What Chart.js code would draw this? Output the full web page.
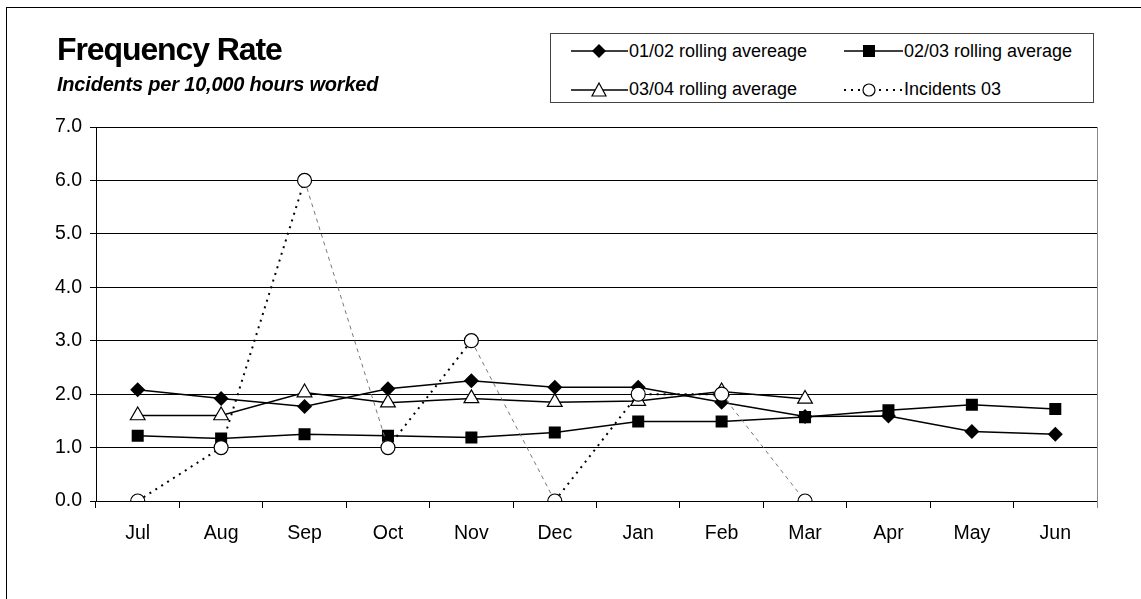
<!DOCTYPE html>
<html>
<head>
<meta charset="utf-8">
<script src="https://cdn.jsdelivr.net/npm/chart.js@4/dist/chart.umd.min.js"></script>
<style>
  html, body { margin: 0; padding: 0; background: #fff; overflow: hidden; }
  #wrap { position: relative; width: 1141px; height: 599px; overflow: hidden; font-family: "Liberation Sans", Arial, sans-serif; color: #000; }
  #frame { position: absolute; left: 6px; top: 7px; width: 1200px; height: 700px; border-left: 1px solid #000; border-top: 1px solid #000; }
  #c { position: absolute; left: 0; top: 0; }
  .title { position: absolute; left: 57px; top: 33px; font-size: 32px; line-height: 32px; font-weight: bold; letter-spacing: -1.1px; white-space: nowrap; }
  .subtitle { position: absolute; left: 57px; top: 74px; font-size: 20px; line-height: 20px; font-weight: bold; font-style: italic; letter-spacing: -0.2px; white-space: nowrap; }
  #legend { position: absolute; left: 550px; top: 33px; width: 542px; height: 68px; border: 1px solid #444; background: #fff; }
  .li { position: absolute; height: 20px; display: flex; align-items: center; font-size: 18px; white-space: nowrap; }
  .li svg { display: block; margin-right: 1px; }
</style>
</head>
<body>
<div id="wrap">
  <div id="frame"></div>
  <canvas id="c" width="1141" height="599"></canvas>
  <div class="title">Frequency Rate</div>
  <div class="subtitle">Incidents per 10,000 hours worked</div>
  <div id="legend"></div>
</div>
<script>
// ---- data ----
const months = ['Jul','Aug','Sep','Oct','Nov','Dec','Jan','Feb','Mar','Apr','May','Jun'];
const rolling0102 = [2.08, 1.92, 1.77, 2.10, 2.25, 2.13, 2.13, 1.85, 1.58, 1.59, 1.30, 1.25];
const rolling0203 = [1.22, 1.17, 1.25, 1.22, 1.19, 1.28, 1.49, 1.49, 1.57, 1.70, 1.80, 1.72];
const rolling0304 = [1.60, 1.60, 2.03, 1.84, 1.92, 1.85, 1.87, 2.05, 1.91, null, null, null];
const incidents03 = [0, 1, 6, 1, 3, 0, 2, 2, 0, null, null, null];
const seriesNames = ['01/02 rolling avereage', '02/03 rolling average', '03/04 rolling average', 'Incidents 03'];
const yTicks = [0, 1, 2, 3, 4, 5, 6, 7];

// ---- legend (HTML) ----
const legendDefs = [
  { name: seriesNames[0], left: 20, top: 7, sym: '<line x1="0" y1="10" x2="57" y2="10" stroke="#000" stroke-width="1.5"/><path d="M28 3 L35 10 L28 17 L21 10 Z" fill="#000"/>' },
  { name: seriesNames[1], left: 293, top: 7, sym: '<line x1="0" y1="10" x2="59" y2="10" stroke="#000" stroke-width="1.5"/><rect x="19" y="4" width="12" height="12" fill="#000"/>' },
  { name: seriesNames[2], left: 20, top: 45, sym: '<line x1="0" y1="11" x2="57" y2="11" stroke="#000" stroke-width="1.5"/><path d="M28 4 L35 17 L21 17 Z" fill="#fff" stroke="#000" stroke-width="1.2"/>' },
  { name: seriesNames[3], left: 293, top: 45, sym: '<line x1="0" y1="11" x2="59" y2="11" stroke="#000" stroke-width="2" stroke-dasharray="2,5"/><circle cx="25" cy="11" r="6" fill="#fff" stroke="#000" stroke-width="1.2"/>' }
];
const legendEl = document.getElementById('legend');
legendDefs.forEach(d => {
  const el = document.createElement('div');
  el.className = 'li';
  el.style.left = d.left + 'px';
  el.style.top = d.top + 'px';
  const w = d.left > 100 ? 59 : 57;
  el.innerHTML = '<svg width="' + w + '" height="20" viewBox="0 0 ' + w + ' 20">' + d.sym + '</svg><span>' + d.name + '</span>';
  legendEl.appendChild(el);
});

// ---- chart ----
const plotBorder = {
  id: 'plotBorder',
  afterDraw(chart) {
    const a = chart.chartArea, ctx = chart.ctx;
    ctx.save();
    ctx.strokeStyle = '#888';
    ctx.lineWidth = 1;
    ctx.beginPath();
    ctx.moveTo(Math.round(a.right) + 0.5, a.top);
    ctx.lineTo(Math.round(a.right) + 0.5, a.bottom + 7);
    ctx.stroke();
    ctx.restore();
  }
};

const FONT = { family: '"Liberation Sans", Arial, sans-serif', size: 19.5 };

new Chart(document.getElementById('c'), {
  type: 'line',
  data: {
    labels: months,
    datasets: [
      {
        label: seriesNames[3], data: incidents03, order: 0,
        borderColor: '#000', borderWidth: 2, borderDash: [2, 5],
        pointStyle: 'circle', pointRadius: 7, pointBackgroundColor: '#fff', pointBorderColor: '#000', pointBorderWidth: 1.2,
        segment: {
          borderColor: ctx => ctx.p1.parsed.y < ctx.p0.parsed.y ? '#777' : '#000',
          borderWidth: ctx => ctx.p1.parsed.y < ctx.p0.parsed.y ? 1 : 2,
          borderDash: ctx => ctx.p1.parsed.y < ctx.p0.parsed.y ? [4, 4] : [2, 5]
        },
        tension: 0, spanGaps: false
      },
      {
        label: seriesNames[2], data: rolling0304, order: 1,
        borderColor: '#000', borderWidth: 1.5,
        pointStyle: 'triangle', pointRadius: 8.5, pointBackgroundColor: '#fff', pointBorderColor: '#000', pointBorderWidth: 1.2,
        tension: 0, spanGaps: false
      },
      {
        label: seriesNames[1], data: rolling0203, order: 2,
        borderColor: '#000', borderWidth: 1.5,
        pointStyle: 'rect', pointRadius: 8.5, pointBackgroundColor: '#000', pointBorderColor: '#000', pointBorderWidth: 0,
        tension: 0
      },
      {
        label: seriesNames[0], data: rolling0102, order: 3,
        borderColor: '#000', borderWidth: 1.5,
        pointStyle: 'rectRot', pointRadius: 7.5, pointBackgroundColor: '#000', pointBorderColor: '#000', pointBorderWidth: 0,
        tension: 0
      }
    ]
  },
  options: {
    responsive: false,
    animation: false,
    devicePixelRatio: 1,
    layout: { padding: { left: 0, right: 44, top: 127, bottom: 52 } },
    plugins: { legend: { display: false }, title: { display: false }, tooltip: { enabled: false } },
    elements: { point: { hoverRadius: 7 } },
    scales: {
      x: {
        type: 'category',
        offset: true,
        grid: { offset: true, drawOnChartArea: false, drawTicks: true, tickLength: 7, color: '#000', lineWidth: 1 },
        border: { display: true, color: '#000', width: 1 },
        ticks: { color: '#000', font: FONT, padding: 14, maxRotation: 0, autoSkip: false },
        afterFit: s => { s.height = 46; }
      },
      y: {
        min: 0, max: 7,
        afterBuildTicks: s => { s.ticks = yTicks.map(v => ({ value: v })); },
        grid: { color: '#000', lineWidth: 1, drawTicks: true, tickLength: 6 },
        border: { display: true, color: '#000', width: 1 },
        ticks: { color: '#000', font: FONT, padding: 8, callback: v => Number(v).toFixed(1) },
        afterFit: s => { s.width = 96; }
      }
    }
  },
  plugins: [plotBorder]
});
</script>
</body>
</html>
